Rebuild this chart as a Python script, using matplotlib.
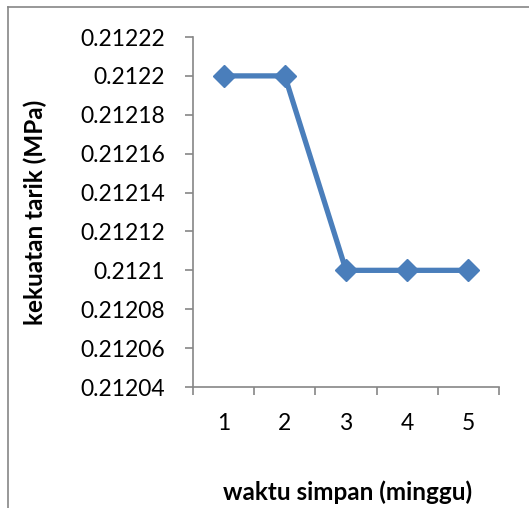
import numpy as np
import matplotlib.pyplot as plt
from matplotlib.lines import Line2D

# data
minggu = [1, 2, 3, 4, 5]
kekuatan = [0.2122, 0.2122, 0.2121, 0.2121, 0.2121]
yticks = [0.21204, 0.21206, 0.21208, 0.2121, 0.21212, 0.21214,
          0.21216, 0.21218, 0.2122, 0.21222]
ytick_labels = ["0.21204", "0.21206", "0.21208", "0.2121", "0.21212",
                "0.21214", "0.21216", "0.21218", "0.2122", "0.21222"]

plt.rcParams['font.family'] = ['Lato', 'DejaVu Sans']

W, H = 529, 508
fig = plt.figure(figsize=(W / 100, H / 100), dpi=100)
ax = fig.add_axes([193 / W, 1 - 387 / H, (499 - 193) / W, (387 - 37) / H])

ax.plot(minggu, kekuatan, color='#4A7EBB', lw=3.8, marker='D', ms=11,
        markerfacecolor='#4A7EBB', markeredgecolor='#4A7EBB')

ax.set_xlim(0.5, 5.5)
ax.set_ylim(0.21204, 0.21222)
ax.set_yticks(yticks)
ax.set_yticklabels(ytick_labels)
ax.set_xticks(minggu)
ax.set_xticks(np.arange(0.5, 6, 1.0), minor=True)

grey = '#868686'
for s in ['top', 'right']:
    ax.spines[s].set_visible(False)
for s in ['left', 'bottom']:
    ax.spines[s].set_color(grey)
    ax.spines[s].set_linewidth(1.2)

ax.tick_params(axis='y', direction='out', length=6, color=grey, width=1.2,
               labelsize=16.5, pad=14)
ax.tick_params(axis='x', which='major', length=0, labelsize=16.5, pad=19)
ax.tick_params(axis='x', which='minor', direction='out', length=6,
               color=grey, width=1.2)

fig.text(35 / W, 1 - 212 / H, "kekuatan tarik (MPa)", rotation=90,
         ha='center', va='center', fontsize=17.5, fontweight='bold')
fig.text(348 / W, 1 - 492 / H, "waktu simpan (minggu)", ha='center',
         va='center', fontsize=17.5, fontweight='bold')

# outer chart border
fig.add_artist(Line2D([8 / W, 8 / W], [0, 1 - 7 / H], color=grey, lw=1.2,
                      transform=fig.transFigure))
fig.add_artist(Line2D([8 / W, 1], [1 - 7 / H, 1 - 7 / H], color=grey, lw=1.2,
                      transform=fig.transFigure))

fig.savefig("out.png", dpi=100)
